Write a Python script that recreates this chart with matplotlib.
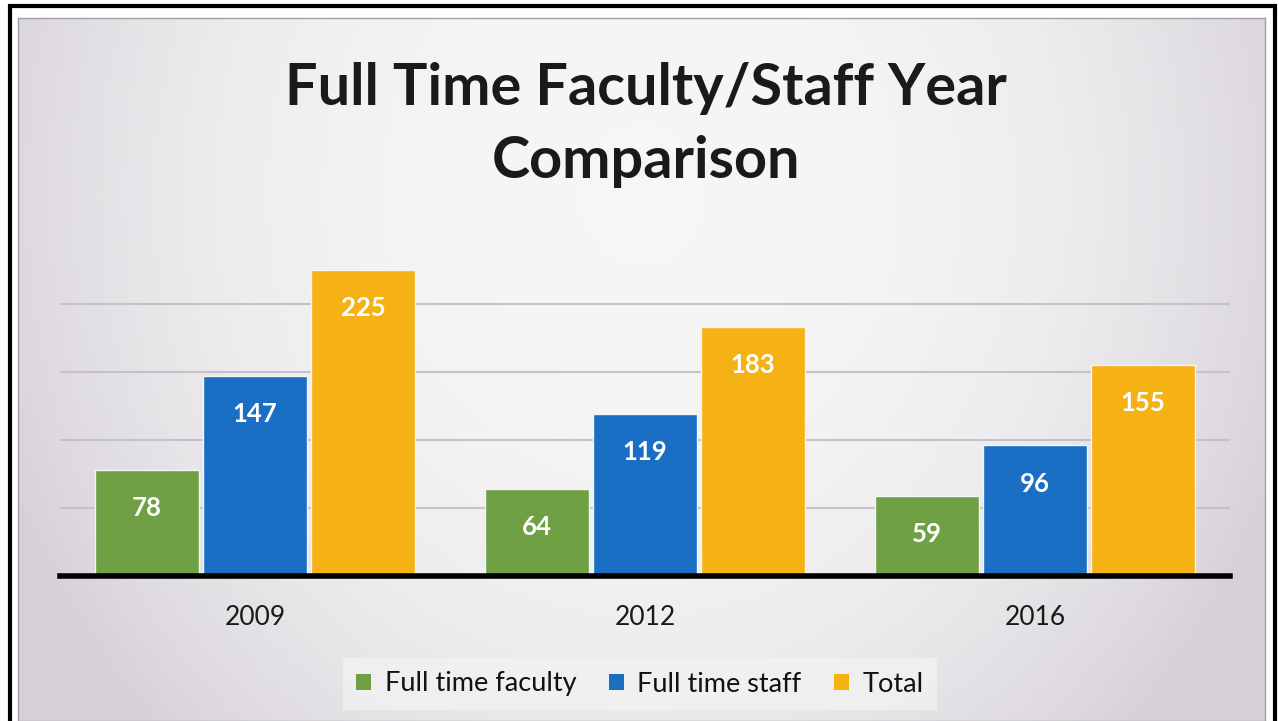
import numpy as np
import matplotlib.pyplot as plt
from matplotlib.patches import Rectangle, Patch

years = ["2009", "2012", "2016"]
faculty = [78, 64, 59]
staff = [147, 119, 96]
total = [225, 183, 155]
series = ["Full time faculty", "Full time staff", "Total"]
colors = ["#70a044", "#1a6fc4", "#f6b115"]

plt.rcParams["font.family"] = ["Lato", "DejaVu Sans"]

W, H = 1279, 721
fig = plt.figure(figsize=(W / 100, H / 100), dpi=100)
fig.patch.set_facecolor("white")

# scanned frame
fig.patches.append(Rectangle((10 / W, -0.05), 1265 / W, 1.05 - 6 / H,
                             transform=fig.transFigure, fill=False,
                             edgecolor="black", lw=3))

# gradient chart area background
bg = fig.add_axes([18 / W, 0, 1247 / W, 1 - 18 / H])
yy, xx = np.mgrid[0:1:200j, 0:1:400j]
d = np.clip(((xx - 0.5) / 0.55) ** 2 + ((yy - 0.25) / 1.1) ** 2, 0, 1)
c0 = np.array([0.965, 0.965, 0.965])
c1 = np.array([0.84, 0.82, 0.85])
img = c0 + (c1 - c0) * d[..., None] ** 1.3
bg.imshow(img, aspect="auto", extent=[0, 1, 1, 0])
bg.set_xticks([])
bg.set_yticks([])
for s in bg.spines.values():
    s.set_color("#a0a0a0")
    s.set_linewidth(1)

# main plot
ax = fig.add_axes([60 / W, 145 / H, 1170 / W, 340 / H])
ax.patch.set_alpha(0)
x = np.arange(len(years))
step = 0.277
width = 0.267
for i, (vals, col) in enumerate(zip([faculty, staff, total], colors)):
    bars = ax.bar(x + (i - 1) * step, vals, width, color=col, zorder=3,
                  edgecolor="#f4f4f4", linewidth=1)
    for b, v in zip(bars, vals):
        ax.text(b.get_x() + b.get_width() / 2, v - 28, str(v),
                ha="center", va="center", color="white", fontsize=18.5,
                fontweight="bold", zorder=4)

ax.set_xlim(-0.5, 2.5)
ax.set_ylim(0, 250)
ax.set_yticks([50, 100, 150, 200])
ax.yaxis.grid(True, color="#c4c2c6", lw=1.5, zorder=0)
ax.tick_params(axis="y", left=False, labelleft=False)
ax.set_xticks(x)
ax.set_xticklabels(years, fontsize=19, color="#1a1a1a")
ax.tick_params(axis="x", length=0, pad=21)
for s in ["top", "left", "right"]:
    ax.spines[s].set_visible(False)
ax.spines["bottom"].set_linewidth(4)
ax.spines["bottom"].set_color("black")
ax.spines["bottom"].set_zorder(5)

fig.text(646 / W, 1 - 125 / H, "Full Time Faculty/Staff Year\nComparison",
         ha="center", va="center", fontsize=41.5, fontweight="bold",
         color="#1a1a1a", linespacing=1.45)

handles = [Patch(facecolor=c, edgecolor="none") for c in colors]
leg = fig.legend(handles, series, loc="center", bbox_to_anchor=(640 / W, 1 - 684 / H),
                 ncol=3, fontsize=19.5, frameon=True, handlelength=0.55,
                 handleheight=0.55, handletextpad=0.5, columnspacing=1.2,
                 borderpad=0.5, fancybox=False)
leg.get_frame().set_facecolor("#f2f2f2")
leg.get_frame().set_edgecolor("none")
for t in leg.get_texts():
    t.set_color("#111111")

fig.savefig("out.png", dpi=100)
